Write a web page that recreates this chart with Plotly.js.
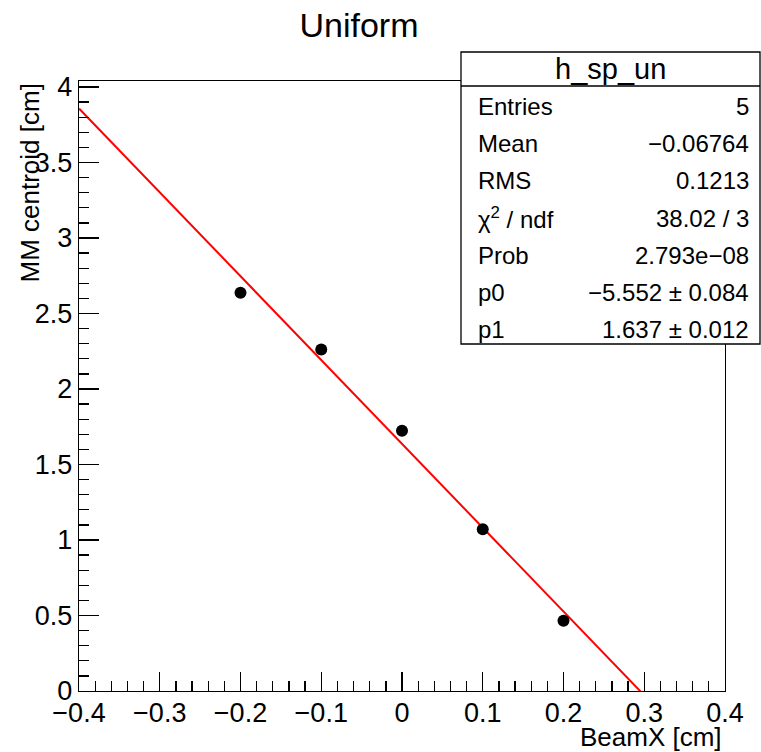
<!DOCTYPE html>
<html>
<head>
<meta charset="utf-8">
<script src="https://cdn.plot.ly/plotly-3.0.1.min.js"></script>
<style>html,body{margin:0;padding:0;background:#fff;}#plot{width:761px;height:752px;}</style>
</head>
<body>
<div id="plot"></div>
<script>
// ---- data ----
const beamX = [-0.2, -0.1, 0.0, 0.1, 0.2];
const centroid = [2.638, 2.262, 1.724, 1.071, 0.466];
const fitP0 = -5.552;   // slope
const fitP1 = 1.637;    // intercept
const fitXRange = [-0.4, 0.4];
const statsTitle = "h_sp_un";
const statsLabels = ["Entries", "Mean", "RMS", "χ<sup>2</sup> / ndf", "Prob", "p0", "p1"];
const statsValues = ["5", "\u22120.06764", "0.1213", "38.02 / 3", "2.793e\u221208", "\u22125.552 ± 0.084", "1.637 ± 0.012"];
const chartTitle = "Uniform";
const xTitle = "BeamX [cm]";
const yTitle = "MM centroid [cm]";

// ---- geometry helpers ----
const W = 761, H = 752;
const L = 79, R = 725, T = 81, B = 691;
const px = x => (x - L) / (R - L);
const py = y => (B - y) / (B - T);
const FONT = "Liberation Sans, Arial, Helvetica, sans-serif";

const fitY = fitXRange.map(x => fitP1 + fitP0 * x);

const traces = [
  {x: fitXRange, y: fitY, mode: "lines", line: {color: "#ff0000", width: 2}, hoverinfo: "skip"},
  {x: beamX, y: centroid, mode: "markers", marker: {color: "#000", size: 12, symbol: "circle"}}
];

const annotations = [];
annotations.push({xref: "paper", yref: "paper", x: px(610), y: py(69), text: statsTitle,
  showarrow: false, xanchor: "center", yanchor: "middle", font: {family: FONT, size: 29, color: "#000"}});
statsLabels.forEach((lab, i) => {
  const yc = 106.5 + i * 37.2;
  annotations.push({xref: "paper", yref: "paper", x: px(476), y: py(yc), text: lab, showarrow: false,
    xanchor: "left", yanchor: "middle", font: {family: FONT, size: 24, color: "#000"}});
  annotations.push({xref: "paper", yref: "paper", x: px(751), y: py(yc), text: statsValues[i], showarrow: false,
    xanchor: "right", yanchor: "middle", font: {family: FONT, size: 24, color: "#000"}});
});
annotations.push({xref: "paper", yref: "paper", x: px(29), y: py(82), text: yTitle, textangle: -90,
  showarrow: false, xanchor: "center", yanchor: "top", font: {family: FONT, size: 26, color: "#000"}});
annotations.push({xref: "paper", yref: "paper", x: px(724), y: py(737), text: xTitle,
  showarrow: false, xanchor: "right", yanchor: "middle", font: {family: FONT, size: 26, color: "#000"}});

const shapes = [
  {type: "rect", xref: "paper", yref: "paper", x0: px(461), x1: px(760), y0: py(344), y1: py(52),
    line: {color: "#000", width: 1.3}, fillcolor: "#fff", layer: "above"},
  {type: "line", xref: "paper", yref: "paper", x0: px(461), x1: px(760), y0: py(86), y1: py(86),
    line: {color: "#000", width: 1.3}, layer: "above"}
];

const axisCommon = {
  showline: true, linecolor: "#000", linewidth: 1.3, mirror: true,
  showgrid: false, zeroline: false,
  ticks: "inside", tickcolor: "#000", tickwidth: 1.3,
  tickfont: {family: FONT, size: 27, color: "#000"}
};

const layout = {
  width: W, height: H,
  margin: {l: L, r: W - R, t: T, b: H - B},
  paper_bgcolor: "#fff", plot_bgcolor: "#fff",
  showlegend: false,
  title: {text: chartTitle, x: 359 / W, xref: "container", xanchor: "center",
    y: 1 - 25 / H, yref: "container", yanchor: "middle",
    font: {family: FONT, size: 34, color: "#000"}},
  xaxis: Object.assign({}, axisCommon, {range: [-0.4, 0.4], tick0: 0, dtick: 0.1, ticklen: 19,
    ticklabelstandoff: -3,
    minor: {dtick: 0.02, ticks: "inside", ticklen: 10, tickcolor: "#000", tickwidth: 1.3, showgrid: false}}),
  yaxis: Object.assign({}, axisCommon, {range: [0, 4.04], tick0: 0, dtick: 0.5, ticklen: 20,
    minor: {dtick: 0.1, ticks: "inside", ticklen: 10, tickcolor: "#000", tickwidth: 1.3, showgrid: false}}),
  annotations: annotations,
  shapes: shapes
};

Plotly.newPlot("plot", traces, layout, {staticPlot: true, displayModeBar: false});
</script>
</body>
</html>
